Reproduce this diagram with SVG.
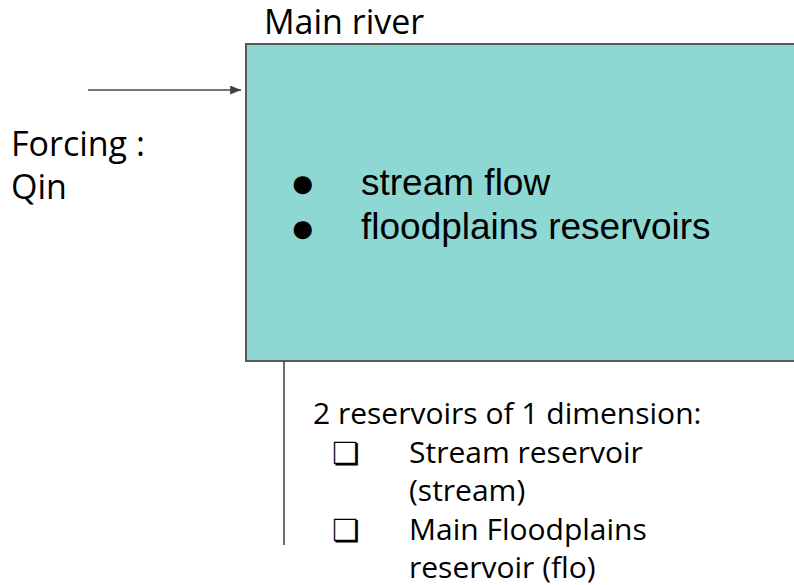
<svg xmlns="http://www.w3.org/2000/svg" width="794" height="585" viewBox="0 0 794 585">
  <style>
    .label { font-family: "Open Sans", Lato, "Liberation Sans", sans-serif; font-size: 34px; fill: #000; }
    .small { font-family: "Open Sans", Lato, "Liberation Sans", sans-serif; font-size: 30px; fill: #000; }
    .box { font-family: "DejaVu Sans", sans-serif; font-size: 31px; fill: #000; }
    .body { font-family: "Liberation Sans", Arial, sans-serif; font-size: 37px; fill: #000; }
    .dot { font-family: "Liberation Sans", Arial, sans-serif; font-size: 42px; fill: #000; }
    .line { stroke: #4a4a4a; stroke-width: 1.6; fill: none; }
  </style>
  <defs>
    <marker id="arrow" viewBox="0 0 12 10" refX="12" refY="5" markerWidth="12" markerHeight="9" orient="auto" markerUnits="userSpaceOnUse">
      <path d="M0,0 L12,5 L0,10 z" fill="#404040"/>
    </marker>
  </defs>

  <g id="main-river">
    <rect x="246" y="44" width="560" height="317" fill="#8ed8d3" stroke="#595959" stroke-width="2"/>
    <text class="label" x="264" y="34">Main river</text>
    <text class="dot" x="290" y="197">●</text>
    <text class="body" x="361" y="195">stream flow</text>
    <text class="dot" x="290" y="242">●</text>
    <text class="body" x="361" y="239">floodplains reservoirs</text>
  </g>

  <g id="forcing">
    <text class="label" x="11" y="156">Forcing :</text>
    <text class="label" x="11" y="199">Qin</text>
  </g>

  <g id="reservoirs">
    <text class="small" x="313" y="424">2 reservoirs of 1 dimension:</text>
    <text class="box" x="332" y="464">❏</text>
    <text class="small" x="409" y="463">Stream reservoir</text>
    <text class="small" x="409" y="501">(stream)</text>
    <text class="box" x="332" y="541">❏</text>
    <text class="small" x="409" y="540">Main Floodplains</text>
    <text class="small" x="409" y="578">reservoir (flo)</text>
  </g>

  <g id="connectors">
    <line class="line" x1="88" y1="90" x2="241" y2="90" marker-end="url(#arrow)"/>
    <line class="line" x1="284" y1="361" x2="284" y2="545" stroke="#666"/>
  </g>
</svg>
